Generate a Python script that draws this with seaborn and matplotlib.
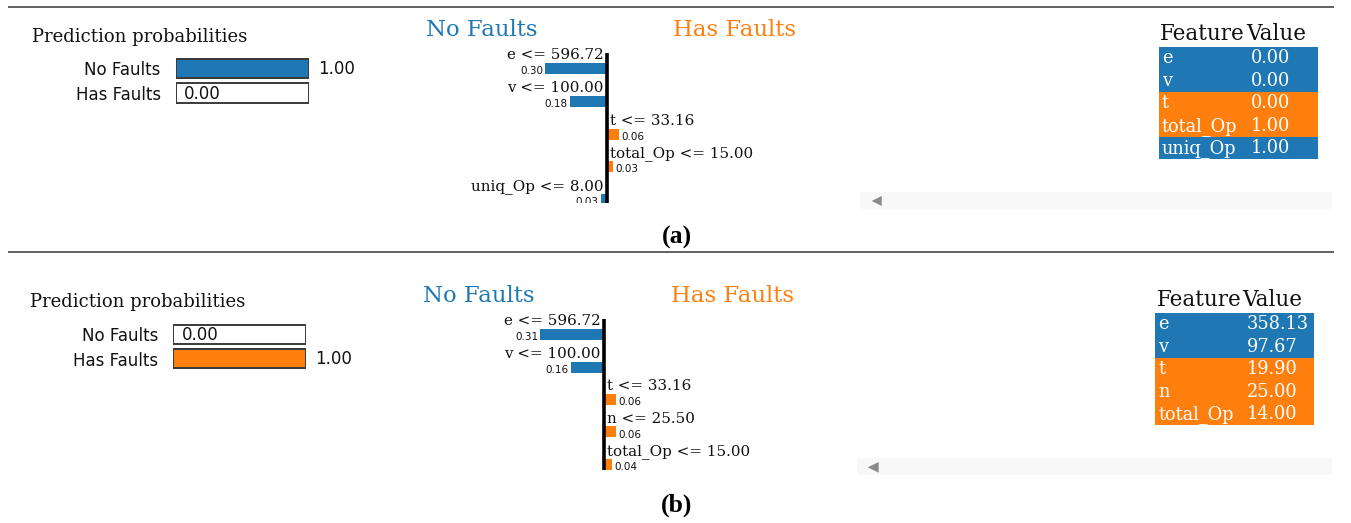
import numpy as np
import pandas as pd
import matplotlib
matplotlib.use("Agg")
import matplotlib.pyplot as plt
import seaborn as sns
from matplotlib.patches import Rectangle, Polygon

# ---------------- data ----------------
classes = ["No Faults", "Has Faults"]
proba_a = [1.00, 0.00]
proba_b = [0.00, 1.00]

rules_a = ["e <= 596.72", "v <= 100.00", "t <= 33.16", "total_Op <= 15.00", "uniq_Op <= 8.00"]
weights_a = [-0.30, -0.18, 0.06, 0.03, -0.03]
features_a = ["e", "v", "t", "total_Op", "uniq_Op"]
values_a = [0.00, 0.00, 0.00, 1.00, 1.00]

rules_b = ["e <= 596.72", "v <= 100.00", "t <= 33.16", "n <= 25.50", "total_Op <= 15.00"]
weights_b = [-0.31, -0.16, 0.06, 0.06, 0.04]
features_b = ["e", "v", "t", "n", "total_Op"]
values_b = [358.13, 97.67, 19.90, 25.00, 14.00]

captions = ["(a)", "(b)"]

# ---------------- style ----------------
sns.set_style("white")
plt.rcParams["font.family"] = ["DejaVu Sans"]
BLUE = "#1f77b4"
ORANGE = "#ff7f0e"
SERIF = "DejaVu Serif"
EDGE = "#3a3a3a"

W, H = 1351, 523
fig = plt.figure(figsize=(W / 100, H / 100), dpi=100)


def px_axes(x0, y0, x1, y1, z=1):
    ax = fig.add_axes([x0 / W, 1 - y1 / H, (x1 - x0) / W, (y1 - y0) / H])
    ax.set_zorder(z)
    ax.patch.set_alpha(0)
    return ax


bg = px_axes(0, 0, W, H, z=0)
bg.set_xlim(0, W)
bg.set_ylim(H, 0)
bg.axis("off")

LAYOUT = [
    dict(top_line=6.7, pp_x=31.7, pp_base=41.7, prob_box=(175.7, 55.8, 309.0, 105.4),
         head_base=36.0, head_no_x=426.0, head_has_x=673.3,
         exp_center=607.0, exp_top=52.7, exp_bot=203.3, row0=68.8, row_sp=32.7,
         tbl=(1159.0, 47.0, 1317.7, 159.3), scroll=(860.0, 191.7, 1331.7, 209.0),
         tri=(871.7, 196.0, 881.7, 206.0), cap_x=677.0, cap_base=243.5),
    dict(top_line=251.7, pp_x=30.0, pp_base=306.7, prob_box=(173.3, 321.95, 306.0, 370.95),
         head_base=301.7, head_no_x=423.3, head_has_x=670.7,
         exp_center=604.0, exp_top=319.0, exp_bot=470.0, row0=334.7, row_sp=32.4,
         tbl=(1155.3, 312.7, 1313.7, 425.3), scroll=(856.7, 458.3, 1331.7, 475.0),
         tri=(867.7, 462.0, 878.7, 472.7), cap_x=677.0, cap_base=512.0),
]

PANELS = [
    (proba_a, rules_a, weights_a, features_a, values_a),
    (proba_b, rules_b, weights_b, features_b, values_b),
]

SCALE = 206.0  # pixels per unit of weight

for k, (L, (proba, rules, weights, feats, vals)) in enumerate(zip(LAYOUT, PANELS)):
    # separator line
    bg.plot([8.3, 1334.0], [L["top_line"], L["top_line"]], color="#555555", lw=1.3,
            solid_capstyle="butt")

    # ---------- prediction probabilities ----------
    bg.text(L["pp_x"], L["pp_base"], "Prediction probabilities", family=SERIF,
            fontsize=13, va="baseline", ha="left", color="#111111")
    x0, y0, x1, y1 = L["prob_box"]
    axp = px_axes(x0, y0, x1, y1, z=2)
    dfp = pd.DataFrame({"cls": classes, "p": proba, "full": [1.0] * len(classes)})
    sns.barplot(data=dfp, x="full", y="cls", color="white", edgecolor=EDGE, linewidth=1.4,
                width=0.77, saturation=1, errorbar=None, ax=axp, orient="h")
    sns.barplot(data=dfp, x="p", y="cls", hue="cls", palette={classes[0]: BLUE, classes[1]: ORANGE},
                edgecolor=EDGE, linewidth=1.4, width=0.77, saturation=1, errorbar=None,
                dodge=False, legend=False, ax=axp, orient="h")
    axp.set_xlim(0, 1)
    axp.set_ylim(1.5, -0.5)
    axp.set_xlabel("")
    axp.set_ylabel("")
    axp.set_xticks([])
    axp.tick_params(axis="y", length=0, pad=10.8, labelsize=12, labelcolor="#111111")
    for s in axp.spines.values():
        s.set_visible(False)
    for i, p in enumerate(proba):
        axp.text(p + 0.065, i + 0.235, f"{p:.2f}", fontsize=12, va="baseline", ha="left",
                 color="#111111", clip_on=False)

    # ---------- class headers ----------
    bg.text(L["head_no_x"], L["head_base"], classes[0], family=SERIF, fontsize=16.4,
            color=BLUE, va="baseline", ha="left")
    bg.text(L["head_has_x"], L["head_base"], classes[1], family=SERIF, fontsize=16.4,
            color=ORANGE, va="baseline", ha="left")

    # ---------- explanation bars ----------
    c = L["exp_center"]
    ex0, ex1 = 420.0, 820.0
    axe = px_axes(ex0, L["exp_top"], ex1, L["exp_bot"], z=2)
    sides = ["neg" if w < 0 else "pos" for w in weights]
    dfe = pd.DataFrame({"rule": rules, "w": weights, "side": sides})
    hbar = 11.0 / L["row_sp"]
    sns.barplot(data=dfe, x="w", y="rule", hue="side", palette={"neg": BLUE, "pos": ORANGE},
                width=hbar, saturation=1, errorbar=None, dodge=False, legend=False,
                linewidth=0, ax=axe, orient="h")
    axe.set_xlim((ex0 - c) / SCALE, (ex1 - c) / SCALE)
    ytop = (L["exp_top"] - L["row0"]) / L["row_sp"]
    ybot = (L["exp_bot"] - L["row0"]) / L["row_sp"]
    axe.set_ylim(ybot, ytop)
    axe.axvline(0, color="black", lw=2.6)
    axe.set_xticks([])
    axe.set_yticks([])
    axe.set_xlabel("")
    axe.set_ylabel("")
    for s in axe.spines.values():
        s.set_visible(False)
    lab_off = -9.3 / L["row_sp"]
    val_off = 5.6 / L["row_sp"]
    for i, (r, w) in enumerate(zip(rules, weights)):
        if w < 0:
            axe.text(-0.015, i + lab_off, r, family=SERIF, fontsize=10.9, ha="right",
                     va="baseline", color="#111111", clip_on=False)
            axe.text(w - 0.01, i + val_off, f"{abs(w):.2f}", fontsize=7.5, ha="right",
                     va="baseline", color="#111111", clip_on=True)
        else:
            axe.text(0.015, i + lab_off, r, family=SERIF, fontsize=10.9, ha="left",
                     va="baseline", color="#111111", clip_on=False)
            axe.text(w + 0.01, i + val_off, f"{abs(w):.2f}", fontsize=7.5, ha="left",
                     va="baseline", color="#111111", clip_on=True)

    # ---------- feature / value table ----------
    tx0, ty0, tx1, ty1 = L["tbl"]
    axt = px_axes(tx0, ty0, tx1, ty1, z=2)
    n = len(feats)
    row_colors = [BLUE if w < 0 else ORANGE for w in weights]
    axt.barh(np.arange(n), [1.0] * n, height=1.0, left=0, color=row_colors, linewidth=0)
    axt.set_xlim(0, 1)
    axt.set_ylim(n - 0.5, -0.5)
    axt.axis("off")
    axt.text(0.008, -0.80, "Feature", family=SERIF, fontsize=15.5, ha="left", va="baseline",
             color="#111111", clip_on=False)
    axt.text(0.548, -0.80, "Value", family=SERIF, fontsize=15.5, ha="left", va="baseline",
             color="#111111", clip_on=False)
    for i, (f, v) in enumerate(zip(feats, vals)):
        axt.text(0.018, i + 0.23, f, family=SERIF, fontsize=12.8, ha="left", va="baseline",
                 color="white")
        axt.text(0.577, i + 0.23, f"{v:.2f}", family=SERIF, fontsize=12.8, ha="left",
                 va="baseline", color="white")

    # ---------- scroll bar decoration ----------
    sx0, sy0, sx1, sy1 = L["scroll"]
    bg.add_patch(Rectangle((sx0, sy0), sx1 - sx0, sy1 - sy0, facecolor="#f8f8f8",
                           edgecolor="none"))
    tx_0, ty_0, tx_1, ty_1 = L["tri"]
    bg.add_patch(Polygon([[tx_0, (ty_0 + ty_1) / 2], [tx_1, ty_0], [tx_1, ty_1]],
                         closed=True, facecolor="#8a8a8a", edgecolor="none"))

    # ---------- caption ----------
    bg.text(L["cap_x"], L["cap_base"], captions[k], family="Liberation Serif",
            fontweight="bold", fontsize=18.5, ha="center", va="baseline", color="black")

fig.savefig("out.png", dpi=100)
